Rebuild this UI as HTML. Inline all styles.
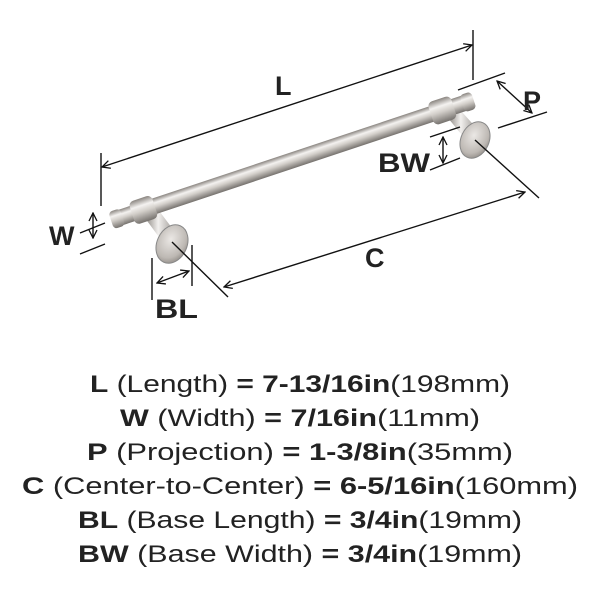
<!DOCTYPE html>
<html><head><meta charset="utf-8"><style>
html,body{margin:0;padding:0;background:#fff;}
svg{display:block;}
text{font-family:"Liberation Sans",sans-serif;fill:#222;}
</style></head><body>
<svg width="600" height="600" viewBox="0 0 600 600" xmlns="http://www.w3.org/2000/svg">
<defs>
<linearGradient id="bar" x1="0" y1="0" x2="0" y2="1">
<stop offset="0" stop-color="#8a8580"/><stop offset="0.3" stop-color="#f4f2f0"/><stop offset="0.55" stop-color="#d2cec9"/><stop offset="1" stop-color="#76726e"/>
</linearGradient>
<linearGradient id="post" x1="0" y1="0" x2="1" y2="0">
<stop offset="0" stop-color="#8a8580"/><stop offset="0.4" stop-color="#f2f0ee"/><stop offset="1" stop-color="#8a8580"/>
</linearGradient>
<radialGradient id="disc" cx="0.4" cy="0.4" r="0.7">
<stop offset="0" stop-color="#ebe8e5"/><stop offset="0.7" stop-color="#bdb8b3"/><stop offset="1" stop-color="#8a8580"/>
</radialGradient>
<marker id="ah" markerWidth="10" markerHeight="10" refX="9" refY="5" orient="auto-start-reverse" markerUnits="userSpaceOnUse">
<path d="M1,1 L9,5 L1,9" fill="none" stroke="#111" stroke-width="1.3"/>
</marker>
</defs>

<g>
  <polygon points="145,218 160,212 178,236 164,244" fill="url(#post)"/>
  <polygon points="448,118 462,112 480,132 466,140" fill="url(#post)"/>
  <g transform="translate(113,220) rotate(-18.4)">
    <rect x="0" y="-8" width="380" height="16" rx="3" fill="url(#bar)"/>
    <rect x="20" y="-12" width="24" height="24" rx="5" fill="url(#bar)"/>
    <rect x="335" y="-12" width="24" height="24" rx="5" fill="url(#bar)"/>
    <rect x="-2" y="-9" width="12" height="18" rx="4" fill="url(#bar)"/>
    <rect x="368" y="-9" width="12" height="18" rx="4" fill="url(#bar)"/>
  </g>
  <ellipse cx="172" cy="244" rx="15" ry="20" fill="url(#disc)" stroke="#888" stroke-width="1" transform="rotate(25 172 244)"/>
  <ellipse cx="475" cy="140" rx="14" ry="19" fill="url(#disc)" stroke="#888" stroke-width="1" transform="rotate(25 475 140)"/>
</g>

<g stroke="#111" stroke-width="1.4" fill="none">
  <line x1="101" y1="153" x2="101" y2="206"/>
  <line x1="473" y1="30" x2="473" y2="80"/>
  <line x1="102" y1="167" x2="472" y2="45" marker-start="url(#ah)" marker-end="url(#ah)"/>
  <line x1="458" y1="90" x2="505" y2="73"/>
  <line x1="498" y1="128" x2="547" y2="112"/>
  <line x1="497" y1="81" x2="532" y2="113" marker-start="url(#ah)" marker-end="url(#ah)"/>
  <line x1="430" y1="137" x2="460" y2="127"/>
  <line x1="430" y1="170" x2="460" y2="158"/>
  <line x1="443" y1="137" x2="443" y2="163" marker-start="url(#ah)" marker-end="url(#ah)"/>
  <line x1="80" y1="233" x2="105" y2="223"/>
  <line x1="80" y1="254" x2="105" y2="244"/>
  <line x1="93" y1="213" x2="93" y2="238" marker-start="url(#ah)" marker-end="url(#ah)"/>
  <line x1="172" y1="242" x2="228" y2="297"/>
  <line x1="475" y1="140" x2="539" y2="198"/>
  <line x1="224" y1="287" x2="525" y2="192" marker-start="url(#ah)" marker-end="url(#ah)"/>
  <line x1="152" y1="258" x2="152" y2="300"/>
  <line x1="192" y1="245" x2="192" y2="286"/>
  <line x1="157" y1="283" x2="189" y2="271" marker-start="url(#ah)" marker-end="url(#ah)"/>
</g>

<g font-size="27" font-weight="bold">
  <text x="275" y="95">L</text>
  <text x="523" y="110">P</text>
  <text x="378" y="172" textLength="52" lengthAdjust="spacingAndGlyphs">BW</text>
  <text x="49" y="245">W</text>
  <text x="365" y="267">C</text>
  <text x="155" y="318" textLength="43" lengthAdjust="spacingAndGlyphs">BL</text>
</g>

<g font-size="24">
  <text x="90" y="392" textLength="420" lengthAdjust="spacingAndGlyphs"><tspan font-weight="bold">L</tspan> (Length) <tspan font-weight="bold">= 7-13/16in</tspan>(198mm)</text>
  <text x="120" y="426" textLength="360" lengthAdjust="spacingAndGlyphs"><tspan font-weight="bold">W</tspan> (Width) <tspan font-weight="bold">= 7/16in</tspan>(11mm)</text>
  <text x="87" y="460" textLength="426" lengthAdjust="spacingAndGlyphs"><tspan font-weight="bold">P</tspan> (Projection) <tspan font-weight="bold">= 1-3/8in</tspan>(35mm)</text>
  <text x="22" y="494" textLength="556" lengthAdjust="spacingAndGlyphs"><tspan font-weight="bold">C</tspan> (Center-to-Center) <tspan font-weight="bold">= 6-5/16in</tspan>(160mm)</text>
  <text x="78" y="528" textLength="444" lengthAdjust="spacingAndGlyphs"><tspan font-weight="bold">BL</tspan> (Base Length) <tspan font-weight="bold">= 3/4in</tspan>(19mm)</text>
  <text x="78" y="562" textLength="444" lengthAdjust="spacingAndGlyphs"><tspan font-weight="bold">BW</tspan> (Base Width) <tspan font-weight="bold">= 3/4in</tspan>(19mm)</text>
</g>
</svg>
</body></html>
